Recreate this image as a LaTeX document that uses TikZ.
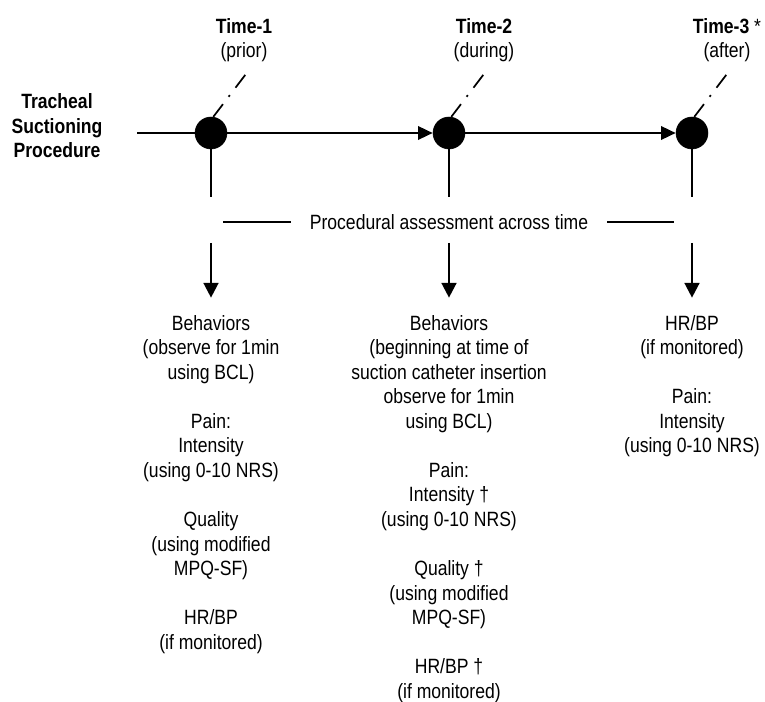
\documentclass[tikz,border=0pt]{standalone}
\usepackage{fontspec}
\setmainfont{Liberation Sans}[FakeStretch=0.85]
\usetikzlibrary{arrows.meta}

\begin{document}
\begin{tikzpicture}[x=0.75pt,y=-0.75pt,
  tpoint/.style={draw,fill,circle,minimum size=24pt,inner sep=0pt},
  arr/.style={draw,line width=1.8pt,-{Triangle[length=11pt,width=10pt]}},
  downarr/.style={draw,line width=1.8pt,-{Triangle[length=11pt,width=11pt]}},
  stub/.style={draw,line width=1.8pt},
  lead/.style={draw,line width=1.3pt,dash pattern=on 12pt off 7pt on 1.5pt off 7pt on 13pt off 4pt},
  txt/.style={align=center,inner sep=0pt,font=\fontsize{15.5}{18.4}\selectfont},
  btxt/.style={txt,font=\fontsize{15.5}{18.4}\selectfont\bfseries}]
  \useasboundingbox (0,0) rectangle (765,702);

  % time points
  \node[tpoint] (t1) at (211,133) {};
  \node[tpoint] (t2) at (449,133) {};
  \node[tpoint] (t3) at (692,133) {};
  \coordinate (start) at (137,133);

  \node[btxt] (proc) at (57,126) {Tracheal\\Suctioning\\Procedure};

  \node[txt,anchor=north] (lab1) at (244,18) {\textbf{Time-1}\\(prior)};
  \node[txt,anchor=north] (lab2) at (484,18) {\textbf{Time-2}\\(during)};
  \node[txt,anchor=north] (lab3) at (727,18) {\textbf{Time-3} *\\(after)};

  \draw[stub] (start) -- (t1);
  \draw[arr] (t1) -- (t2);
  \draw[arr] (t2) -- (t3);

  \foreach \i in {1,2,3} {
    \draw[lead] (t\i.82) -- ++(32,-42);
    \draw[stub] (t\i.south) -- (t\i.south |- 0,197);
    \coordinate (a\i) at (t\i |- 0,243);
  }

  % assessment band
  \node[txt] (band) at (449,222) {Procedural assessment across time};
  \coordinate (bl) at (223,222);
  \coordinate (br) at (674,222);
  \draw[stub,line width=1.4pt] (bl) -- ([xshift=-14pt]band.west);
  \draw[stub,line width=1.4pt] ([xshift=14pt]band.east) -- (br);

  \node[txt,anchor=north] (col1) at (211,315) {Behaviors\\(observe for 1min\\using BCL)\\[18.4pt]
    Pain:\\Intensity\\(using 0-10 NRS)\\[18.4pt]
    Quality\\(using modified\\MPQ-SF)\\[18.4pt]
    HR/BP\\(if monitored)};
  \node[txt,anchor=north] (col2) at (449,315) {Behaviors\\(beginning at time of\\suction catheter insertion\\observe for 1min\\using BCL)\\[18.4pt]
    Pain:\\Intensity \textdagger\\(using 0-10 NRS)\\[18.4pt]
    Quality \textdagger\\(using modified\\MPQ-SF)\\[18.4pt]
    HR/BP \textdagger\\(if monitored)};
  \node[txt,anchor=north] (col3) at (692,315) {HR/BP\\(if monitored)\\[18.4pt]
    Pain:\\Intensity\\(using 0-10 NRS)};

  \draw[downarr] (a1) -- ([yshift=13pt]col1.north);
  \draw[downarr] (a2) -- ([yshift=13pt]col2.north);
  \draw[downarr] (a3) -- ([yshift=13pt]col3.north);
\end{tikzpicture}
\end{document}
